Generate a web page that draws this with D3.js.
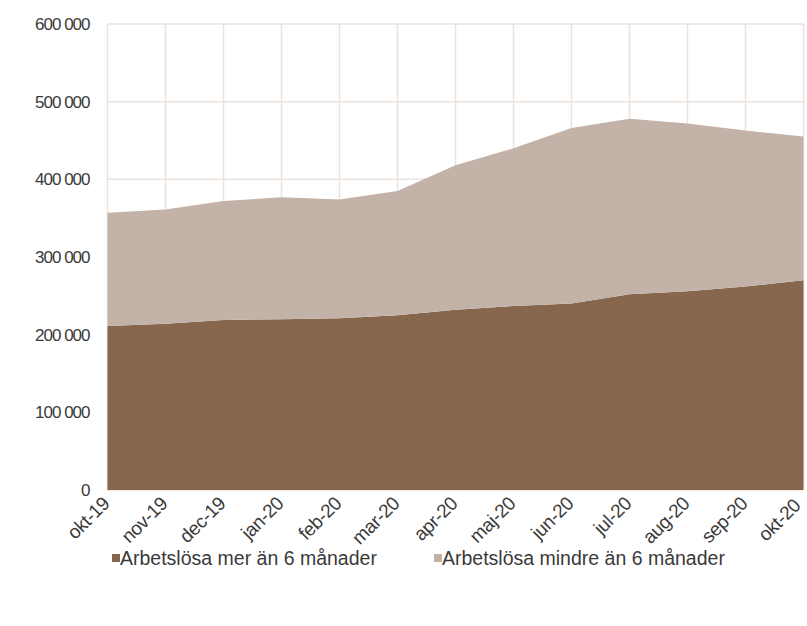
<!DOCTYPE html>
<html>
<head>
<meta charset="utf-8">
<script src="https://cdn.jsdelivr.net/npm/d3@7"></script>
<style>
  html, body { margin: 0; padding: 0; background: #fff; }
  svg { display: block; font-family: "Liberation Sans", Arial, sans-serif; }
</style>
</head>
<body>
<svg id="chart" width="807" height="626"></svg>
<script>
// Monthly categories
const months = ["okt-19", "nov-19", "dec-19", "jan-20", "feb-20", "mar-20", "apr-20",
                "maj-20", "jun-20", "jul-20", "aug-20", "sep-20", "okt-20"];
// Unemployed longer than 6 months
const longTerm = [211000, 214000, 219000, 220000, 221000, 225000, 232000,
                  237000, 240000, 252000, 256000, 262000, 270000];
// Unemployed shorter than 6 months
const shortTerm = [146000, 147000, 153000, 157000, 153000, 160000, 186000,
                   203000, 226000, 226000, 216000, 201000, 185000];
const seriesNames = ["Arbetslösa mer än 6 månader", "Arbetslösa mindre än 6 månader"];
const seriesColors = ["#86674d", "#c2b2a8"];
const yTicks = [0, 100000, 200000, 300000, 400000, 500000, 600000];

const svg = d3.select("#chart");
const margin = { left: 107.5, right: 3.5, top: 24, bottom: 136 };
const W = 807, H = 626;

const x = d3.scalePoint().domain(months).range([margin.left, W - margin.right]);
const y = d3.scaleLinear().domain([0, 600000]).range([H - margin.bottom, margin.top]);

const rows = months.map((m, i) => ({ month: m, a: longTerm[i], b: shortTerm[i] }));
const layers = d3.stack().keys(["a", "b"])(rows);

const fmt = v => d3.format(",")(v).replace(/,/g, " ");

// Gridlines
const grid = svg.append("g").attr("stroke", "#ebe3dc").attr("stroke-width", 1.5);
grid.selectAll("line.h").data(yTicks).join("line")
  .attr("x1", margin.left).attr("x2", W - margin.right)
  .attr("y1", d => y(d)).attr("y2", d => y(d));
grid.selectAll("line.v").data(months).join("line")
  .attr("x1", d => x(d)).attr("x2", d => x(d))
  .attr("y1", margin.top).attr("y2", y(0));

// Stacked areas
const area = d3.area()
  .x(d => x(d.data.month))
  .y0(d => y(d[0]))
  .y1(d => y(d[1]));
svg.append("g").selectAll("path").data(layers).join("path")
  .attr("d", area)
  .attr("fill", (d, i) => seriesColors[i]);

// Y axis
const yAxis = d3.axisLeft(y).tickValues(yTicks).tickFormat(fmt).tickSize(0).tickPadding(18);
svg.append("g").attr("transform", `translate(${margin.left},0)`).call(yAxis)
  .call(g => g.select(".domain").remove())
  .selectAll("text")
  .attr("font-size", 17).attr("letter-spacing", "-1px").attr("fill", "#3a3a3a")
  .attr("font-family", "Liberation Sans, Arial, sans-serif");

// X axis, labels slanted; the last one is nudged in from the right edge
const lastMonth = months[months.length - 1];
const xAxis = d3.axisBottom(x).tickSize(0).tickPadding(0);
svg.append("g").attr("transform", `translate(0,${y(0)})`).call(xAxis)
  .call(g => g.select(".domain").remove())
  .selectAll("text")
  .attr("font-size", 19).attr("letter-spacing", "-0.4px").attr("fill", "#3a3a3a")
  .attr("font-family", "Liberation Sans, Arial, sans-serif")
  .attr("text-anchor", "end")
  .attr("dy", "0.35em")
  .attr("transform", d => d === lastMonth ? "translate(-7,12) rotate(-45)" : "translate(-2,10) rotate(-45)");

// Legend
const legend = svg.append("g").attr("transform", "translate(112,558)");
const legendX = [0, 322];
seriesNames.forEach((name, i) => {
  const g = legend.append("g").attr("transform", `translate(${legendX[i]},0)`);
  g.append("rect").attr("x", 0).attr("y", -4).attr("width", 8).attr("height", 8)
    .attr("fill", seriesColors[i]);
  g.append("text").attr("x", 8).attr("y", 0).attr("dy", "0.35em")
    .attr("font-size", 19.5).attr("fill", "#3a3a3a").text(name);
});
</script>
</body>
</html>
